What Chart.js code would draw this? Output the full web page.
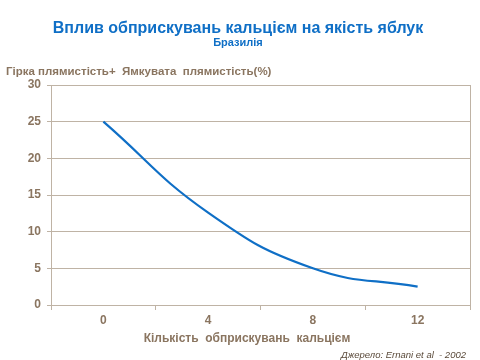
<!DOCTYPE html>
<html><head><meta charset="utf-8">
<script src="https://cdn.jsdelivr.net/npm/chart.js@4/dist/chart.umd.min.js"></script>
<style>html,body{margin:0;padding:0;background:#fff}#wrap{width:480px;height:360px;position:relative}</style>
</head><body><div id="wrap"><canvas id="c" width="480" height="360"></canvas></div>
<script>
const titleText = "Вплив обприскувань кальцієм на якість яблук";
const subtitleText = "Бразилія";
const yAxisTitle = "Гірка плямистість+  Ямкувата  плямистість(%)";
const xAxisTitle = "Кількість  обприскувань  кальцієм";
const sourceText = "Джерело: Ernani et al  - 2002";
const categories = ["0", "4", "8", "12"];
const values = [25, 12.6, 5, 2.5];
const yTicks = [0, 5, 10, 15, 20, 25, 30];

const FONT = "'Liberation Sans', Arial, sans-serif";
const BROWN = "#8a7560";
const GRID = "#bfb3a5";
const BLUE = "#0f6fc6";

const textPlugin = {
  id: 'texts',
  afterDraw(chart) {
    const ctx = chart.ctx, a = chart.chartArea;
    ctx.save();
    ctx.strokeStyle = GRID; ctx.lineWidth = 1;
    ctx.beginPath(); ctx.moveTo(Math.round(a.right) + 0.5, a.top); ctx.lineTo(Math.round(a.right) + 0.5, a.bottom); ctx.stroke();
    ctx.textBaseline = 'alphabetic';
    ctx.textAlign = 'center';
    ctx.fillStyle = BLUE;
    ctx.font = "bold 16px " + FONT;
    ctx.fillText(titleText, 238, 33);
    ctx.font = "bold 11px " + FONT;
    ctx.fillText(subtitleText, 238, 46);
    ctx.fillStyle = BROWN;
    ctx.textAlign = 'left';
    ctx.font = "bold 11.5px " + FONT;
    ctx.fillText(yAxisTitle, 6, 75);
    ctx.textAlign = 'center';
    ctx.font = "bold 12px " + FONT;
    ctx.fillText(xAxisTitle, 247, 342);
    ctx.textAlign = 'right';
    ctx.fillStyle = "#5a4a3a";
    ctx.font = "italic 9.5px " + FONT;
    ctx.fillText(sourceText, 466, 358);
    ctx.restore();
  }
};

new Chart(document.getElementById('c'), {
  type: 'line',
  data: {
    labels: categories,
    datasets: [{
      data: values,
      borderColor: BLUE,
      borderWidth: 2.2,
      pointRadius: 0,
      tension: 0.45,
      fill: false
    }]
  },
  options: {
    responsive: false,
    animation: false,
    devicePixelRatio: 1,
    layout: { padding: { top: 85, right: 10, left: 0, bottom: 0 } },
    plugins: { legend: { display: false }, title: { display: false }, tooltip: { enabled: false } },
    scales: {
      x: {
        type: 'category',
        offset: true,
        grid: { offset: true, drawOnChartArea: false, drawTicks: true, tickLength: 5, color: GRID },
        border: { color: GRID, width: 1 },
        ticks: { color: BROWN, font: { family: FONT, size: 12, weight: 'bold' }, padding: 3 },
        afterFit(s) { s.height = 55; }
      },
      y: {
        min: 0, max: 30,
        afterBuildTicks(s) { s.ticks = yTicks.map(v => ({ value: v })); },
        grid: { color: GRID, tickLength: 4 },
        border: { color: GRID, width: 1 },
        ticks: { color: BROWN, font: { family: FONT, size: 12, weight: 'bold' }, padding: 6 },
        afterFit(s) { s.width = 51; }
      }
    }
  },
  plugins: [textPlugin]
});
</script></body></html>
